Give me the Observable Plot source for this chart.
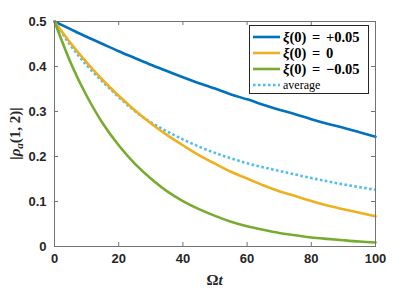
<!DOCTYPE html>
<html>
<head>
<meta charset="utf-8">
<script src="https://cdn.jsdelivr.net/npm/d3@7"></script>
<script src="https://cdn.jsdelivr.net/npm/@observablehq/plot@0.6"></script>
<style>
  html, body { margin: 0; padding: 0; background: #fff; }
  #wrap { position: relative; width: 415px; height: 289px; }
  #legend { position: absolute; left: 249px; top: 25px; width: 120px; height: 69px;
    border: 1px solid #262626; background: #fff; box-sizing: border-box;
    font-family: "Liberation Serif", serif; color: #000; }
  .row { position: absolute; left: 0; height: 16px; display: flex; align-items: center; }
  .sw { width: 27px; margin-left: 3px; margin-right: 3px; height: 0; }
  .lab { font-size: 14.5px; font-weight: bold; white-space: nowrap; word-spacing: 2px; }
  .avg { font-size: 12px; font-weight: normal; word-spacing: 0; }
</style>
</head>
<body>
<div id="wrap"></div>
<script>
const tVals = [0,5,10,15,20,25,30,35,40,45,50,55,60,65,70,75,80,85,90,95,100];
const plusVals  = [0.500,0.483,0.466,0.450,0.434,0.419,0.404,0.390,0.376,0.363,0.351,0.338,0.327,0.315,0.304,0.294,0.283,0.273,0.264,0.254,0.244];
const zeroVals  = [0.500,0.452,0.409,0.370,0.335,0.303,0.274,0.248,0.225,0.203,0.184,0.166,0.151,0.136,0.123,0.112,0.101,0.091,0.083,0.075,0.067];
const minusVals = [0.500,0.409,0.335,0.274,0.225,0.184,0.151,0.123,0.101,0.083,0.068,0.055,0.045,0.037,0.030,0.025,0.020,0.017,0.014,0.011,0.009];
const avgVals   = [0.500,0.447,0.403,0.366,0.332,0.301,0.276,0.256,0.238,0.222,0.208,0.196,0.185,0.176,0.168,0.160,0.152,0.145,0.138,0.132,0.126];
const xTicks = [0,20,40,60,80,100];
const yTicks = [0,0.1,0.2,0.3,0.4,0.5];
const yTickLabels = ["0","0.1","0.2","0.3","0.4","0.5"];
const seriesNames = ["plus","zero","minus","avg"];
const seriesColors = ["#0072BD","#EDB120","#77AC30","#4DBEEE"];

const mk = (vals, s) => tVals.map((t, i) => ({t, v: vals[i], s}));
const solid = [...mk(plusVals,"plus"), ...mk(zeroVals,"zero"), ...mk(minusVals,"minus")];
const dotted = mk(avgVals,"avg");

const W = 415, H = 289, mL = 54, mR = 40, mT = 21, mB = 43;
const fw = W - mL - mR, fh = H - mT - mB;
const axisCol = "#737373";
const tickFont = {fontFamily: "'Liberation Sans', Arial, sans-serif", fontSize: "13px", fontWeight: "bold", color: "#262626", background: "#fff"};

const plot = Plot.plot({
  width: W, height: H,
  marginLeft: mL, marginRight: mR, marginTop: mT, marginBottom: mB,
  style: tickFont,
  x: {domain: [0, 100], label: null},
  y: {domain: [0, 0.5], label: null},
  color: {domain: seriesNames, range: seriesColors},
  marks: [
    Plot.line(dotted, {x: "t", y: "v", stroke: "s", strokeWidth: 2.6, strokeDasharray: "2.6,2.4", strokeLinecap: "butt", curve: "natural"}),
    Plot.line(solid, {x: "t", y: "v", z: "s", stroke: "s", strokeWidth: 2.6, curve: "natural"}),
    Plot.frame({stroke: axisCol, strokeWidth: 1}),
    Plot.tickX(xTicks, {x: d => d, stroke: axisCol, insetTop: fh - 4}),
    Plot.tickX(xTicks, {x: d => d, stroke: axisCol, insetBottom: fh - 4}),
    Plot.tickY(yTicks, {y: d => d, stroke: axisCol, insetRight: fw - 4}),
    Plot.tickY(yTicks, {y: d => d, stroke: axisCol, insetLeft: fw - 4}),
    Plot.axisX({ticks: xTicks, tickSize: 0, tickPadding: 7, label: null, tickFormat: d => String(d)}),
    Plot.axisY({ticks: yTicks, tickSize: 0, tickPadding: 8, label: null, tickFormat: (d, i) => yTickLabels[i]})
  ]
});

const wrap = document.getElementById("wrap");
wrap.appendChild(plot);

// axis titles with math styling
const svg = d3.select(plot);
const xt = svg.append("text")
  .attr("x", mL + fw / 2).attr("y", H - 4)
  .attr("text-anchor", "middle")
  .style("font-family", "'Liberation Serif', serif").style("font-size", "15px").style("fill", "#262626");
xt.append("tspan").text("Ω");
xt.append("tspan").style("font-style", "italic").text("t");

const yt = svg.append("text")
  .attr("transform", `translate(20,${mT + fh / 2}) rotate(-90)`)
  .attr("text-anchor", "middle")
  .style("font-family", "'Liberation Serif', serif").style("font-size", "15px").style("fill", "#262626");
yt.append("tspan").text("|");
yt.append("tspan").style("font-style", "italic").text("ρ");
yt.append("tspan").style("font-style", "italic").style("font-size", "11px").attr("dy", "3").text("a");
yt.append("tspan").attr("dy", "-3").text("(1, 2)|");

// legend
const legend = document.createElement("div");
legend.id = "legend";
const entries = [
  {s: "plus", html: "<i>ξ</i>(0) = +0.05", dash: false},
  {s: "zero", html: "<i>ξ</i>(0) = 0", dash: false},
  {s: "minus", html: "<i>ξ</i>(0) = −0.05", dash: false},
  {s: "avg", html: "average", dash: true}
];
entries.forEach((e, i) => {
  const row = document.createElement("div");
  row.className = "row";
  row.style.top = (3 + i * 16) + "px";
  const col = seriesColors[seriesNames.indexOf(e.s)];
  const sw = document.createElementNS("http://www.w3.org/2000/svg", "svg");
  sw.setAttribute("width", "27"); sw.setAttribute("height", "6");
  sw.style.margin = "0 3px";
  const ln = document.createElementNS("http://www.w3.org/2000/svg", "line");
  ln.setAttribute("x1", "0"); ln.setAttribute("x2", "27");
  ln.setAttribute("y1", "3"); ln.setAttribute("y2", "3");
  ln.setAttribute("stroke", col); ln.setAttribute("stroke-width", "2.6");
  if (e.dash) ln.setAttribute("stroke-dasharray", "2.6,2.4");
  sw.appendChild(ln);
  const lab = document.createElement("span");
  lab.className = "lab" + (e.dash ? " avg" : "");
  lab.innerHTML = e.html;
  row.appendChild(sw);
  row.appendChild(lab);
  legend.appendChild(row);
});
wrap.appendChild(legend);
</script>
</body>
</html>
